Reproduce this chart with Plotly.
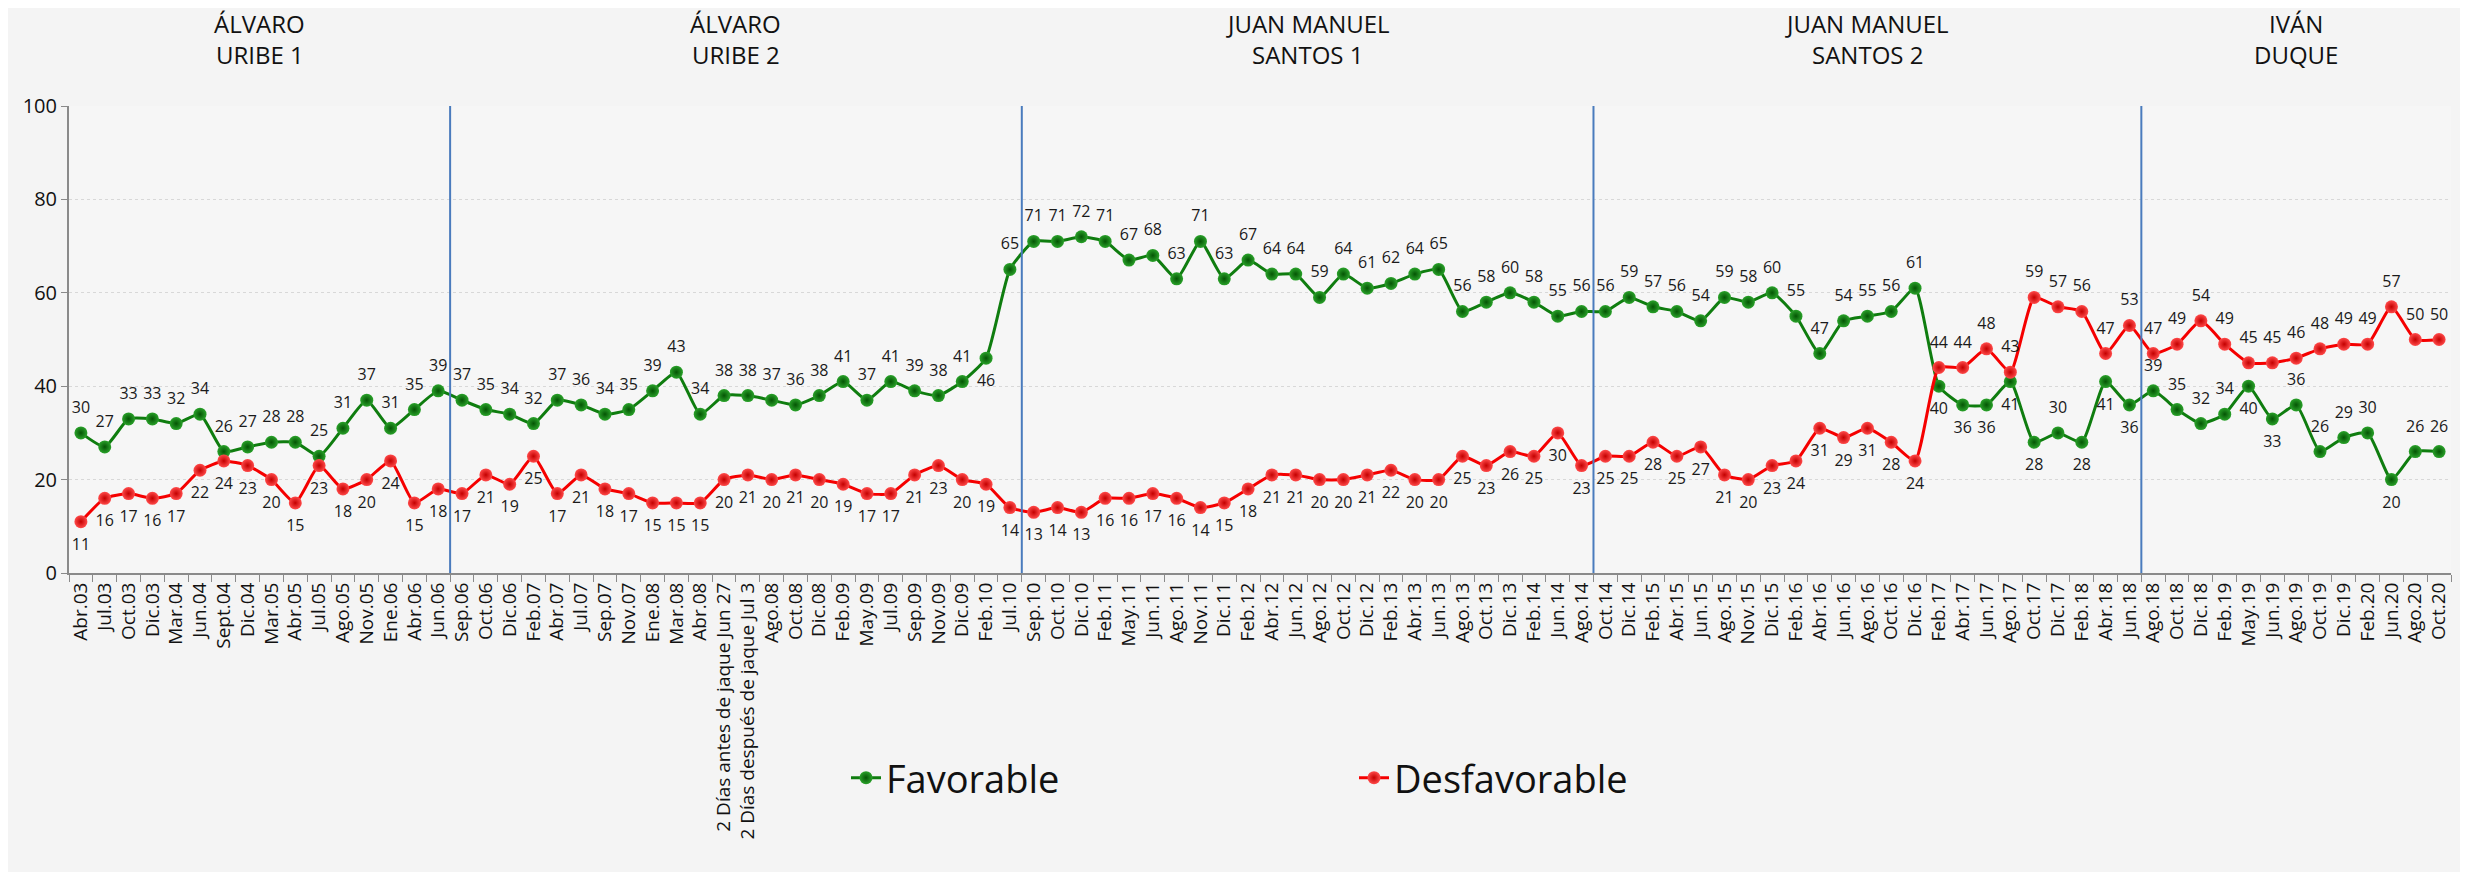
import plotly.graph_objects as go

categories = [
    "Abr.03", "Jul.03", "Oct.03", "Dic.03", "Mar.04", "Jun.04", "Sept.04", "Dic.04", "Mar.05", "Abr.05",
    "Jul.05", "Ago.05", "Nov.05", "Ene.06", "Abr.06", "Jun.06",
    "Sep.06", "Oct.06", "Dic.06", "Feb.07", "Abr.07", "Jul.07", "Sep.07", "Nov.07", "Ene.08", "Mar.08",
    "Abr.08", "2 Días antes de jaque Jun 27", "2 Días después de jaque Jul 3", "Ago.08", "Oct.08", "Dic.08",
    "Feb.09", "May.09", "Jul.09", "Sep.09", "Nov.09", "Dic.09", "Feb.10", "Jul.10",
    "Sep.10", "Oct.10", "Dic.10", "Feb.11", "May.11", "Jun.11", "Ago.11", "Nov.11", "Dic.11", "Feb.12",
    "Abr.12", "Jun.12", "Ago.12", "Oct.12", "Dic.12", "Feb.13", "Abr.13", "Jun.13", "Ago.13", "Oct.13",
    "Dic.13", "Feb.14", "Jun.14", "Ago.14",
    "Oct.14", "Dic.14", "Feb.15", "Abr.15", "Jun.15", "Ago.15", "Nov.15", "Dic.15", "Feb.16", "Abr.16",
    "Jun.16", "Ago.16", "Oct.16", "Dic.16", "Feb.17", "Abr.17", "Jun.17", "Ago.17", "Oct.17", "Dic.17",
    "Feb.18", "Abr.18", "Jun.18",
    "Ago.18", "Oct.18", "Dic.18", "Feb.19", "May.19", "Jun.19", "Ago.19", "Oct.19", "Dic.19", "Feb.20",
    "Jun.20", "Ago.20", "Oct.20",
]

favorable = [
    30, 27, 33, 33, 32, 34, 26, 27, 28, 28, 25, 31, 37, 31, 35, 39,
    37, 35, 34, 32, 37, 36, 34, 35, 39, 43, 34, 38, 38, 37, 36, 38, 41, 37, 41, 39, 38, 41, 46, 65,
    71, 71, 72, 71, 67, 68, 63, 71, 63, 67, 64, 64, 59, 64, 61, 62, 64, 65, 56, 58, 60, 58, 55, 56,
    56, 59, 57, 56, 54, 59, 58, 60, 55, 47, 54, 55, 56, 61, 40, 36, 36, 41, 28, 30, 28, 41, 36,
    39, 35, 32, 34, 40, 33, 36, 26, 29, 30, 20, 26, 26,
]

desfavorable = [
    11, 16, 17, 16, 17, 22, 24, 23, 20, 15, 23, 18, 20, 24, 15, 18,
    17, 21, 19, 25, 17, 21, 18, 17, 15, 15, 15, 20, 21, 20, 21, 20, 19, 17, 17, 21, 23, 20, 19, 14,
    13, 14, 13, 16, 16, 17, 16, 14, 15, 18, 21, 21, 20, 20, 21, 22, 20, 20, 25, 23, 26, 25, 30, 23,
    25, 25, 28, 25, 27, 21, 20, 23, 24, 31, 29, 31, 28, 24, 44, 44, 48, 43, 59, 57, 56, 47, 53,
    47, 49, 54, 49, 45, 45, 46, 48, 49, 49, 57, 50, 50,
]

period_line1 = ["ÁLVARO", "ÁLVARO", "JUAN MANUEL", "JUAN MANUEL", "IVÁN"]
period_line2 = ["URIBE 1", "URIBE 2", "SANTOS 1", "SANTOS 2", "DUQUE"]
period_first = ["Abr.03", "Sep.06", "Sep.10", "Oct.14", "Ago.18"]

fav_label_below = ["Feb.10", "Feb.17", "Abr.17", "Jun.17", "Ago.17", "Oct.17", "Feb.18", "Abr.18",
                   "Jun.18", "May.19", "Jun.19", "Jun.20"]
desf_label_above_from = "Feb.17"

GREEN = "#0f7d0f"
RED = "#f50000"

fav_pos = ["bottom center" if c in fav_label_below else "top center" for c in categories]
start_above = categories.index(desf_label_above_from)
desf_pos = ["top center" if i >= start_above else "bottom center" for i in range(len(categories))]

fig = go.Figure()

fig.add_trace(go.Scatter(
    x=categories, y=favorable, name="Favorable", mode="lines+markers",
    line=dict(color=GREEN, width=3, shape="spline", smoothing=0.5),
    marker=dict(size=13, color="#2aa22a", gradient=dict(type="radial", color="#045504")),
))
fig.add_trace(go.Scatter(
    x=categories, y=desfavorable, name="Desfavorable", mode="lines+markers",
    line=dict(color=RED, width=3, shape="spline", smoothing=0.5),
    marker=dict(size=13, color="#ff4a4a", gradient=dict(type="radial", color="#c40000")),
))
fig.add_trace(go.Scatter(
    x=categories, y=favorable, mode="markers+text", text=[str(v) for v in favorable],
    marker=dict(size=24, opacity=0),
    textposition=fav_pos, textfont=dict(family="Open Sans", size=16, color="#1a1a1a"),
    showlegend=False, hoverinfo="skip",
))
fig.add_trace(go.Scatter(
    x=categories, y=desfavorable, mode="markers+text", text=[str(v) for v in desfavorable],
    marker=dict(size=24, opacity=0),
    textposition=desf_pos, textfont=dict(family="Open Sans", size=16, color="#1a1a1a"),
    showlegend=False, hoverinfo="skip",
))

W, H = 2468, 872
ml, mr, mt, mb = 61, 25, 98, 307
pw = W - ml - mr
ph = H - mt - mb

# period separators and titles
starts = [categories.index(c) for c in period_first]
ends = starts[1:] + [len(categories)]
shapes = []
annotations = []
title_font = dict(family="Liberation Sans Narrow, Open Sans", size=24, color="#111")
for i, (s, e) in enumerate(zip(starts, ends)):
    if i > 0:
        shapes.append(dict(type="line", xref="x", yref="y", x0=s - 0.5, x1=s - 0.5, y0=0, y1=100,
                           line=dict(color="#4a7bbd", width=2)))
    for txt, ypix in ((period_line1[i], 15), (period_line2[i], 46)):
        annotations.append(dict(
            x=(s + e - 1) / 2, y=1 + (mt - ypix) / ph, xref="x", yref="paper", text=txt,
            showarrow=False, xanchor="center", yanchor="middle", font=title_font,
        ))

fig.update_layout(
    width=W, height=H,
    margin=dict(l=ml, r=mr, t=mt, b=mb),
    paper_bgcolor="#f4f4f4", plot_bgcolor="#f6f6f6",
    font=dict(family="Open Sans", color="#1a1a1a"),
    shapes=shapes, annotations=annotations,
    showlegend=True,
    legend=dict(
        orientation="h", x=(838 - ml) / pw, y=-(770 - (H - mb)) / ph,
        xanchor="left", yanchor="middle",
        font=dict(family="Open Sans", size=38, color="#111"),
        bgcolor="rgba(0,0,0,0)", entrywidth=463, entrywidthmode="pixels",
    ),
    xaxis=dict(
        type="category", tickangle=-90, tickson="boundaries", ticks="outside", ticklen=7,
        tickcolor="#8a8a8a", showline=True, linecolor="#8a8a8a", linewidth=2,
        showgrid=False, automargin=False, tickfont=dict(family="Open Sans", size=19, color="#111"),
        range=[-0.5, len(categories) - 0.5],
    ),
    yaxis=dict(
        range=[0, 100], dtick=20, ticks="outside", ticklen=6, tickcolor="#8a8a8a",
        showline=True, linecolor="#8a8a8a", linewidth=2,
        showgrid=True, gridcolor="#d8d8d8", griddash="dot", gridwidth=1,
        zeroline=False, automargin=False,
        tickfont=dict(family="Open Sans", size=20, color="#111"),
    ),
)

fig.write_html("out.html")
